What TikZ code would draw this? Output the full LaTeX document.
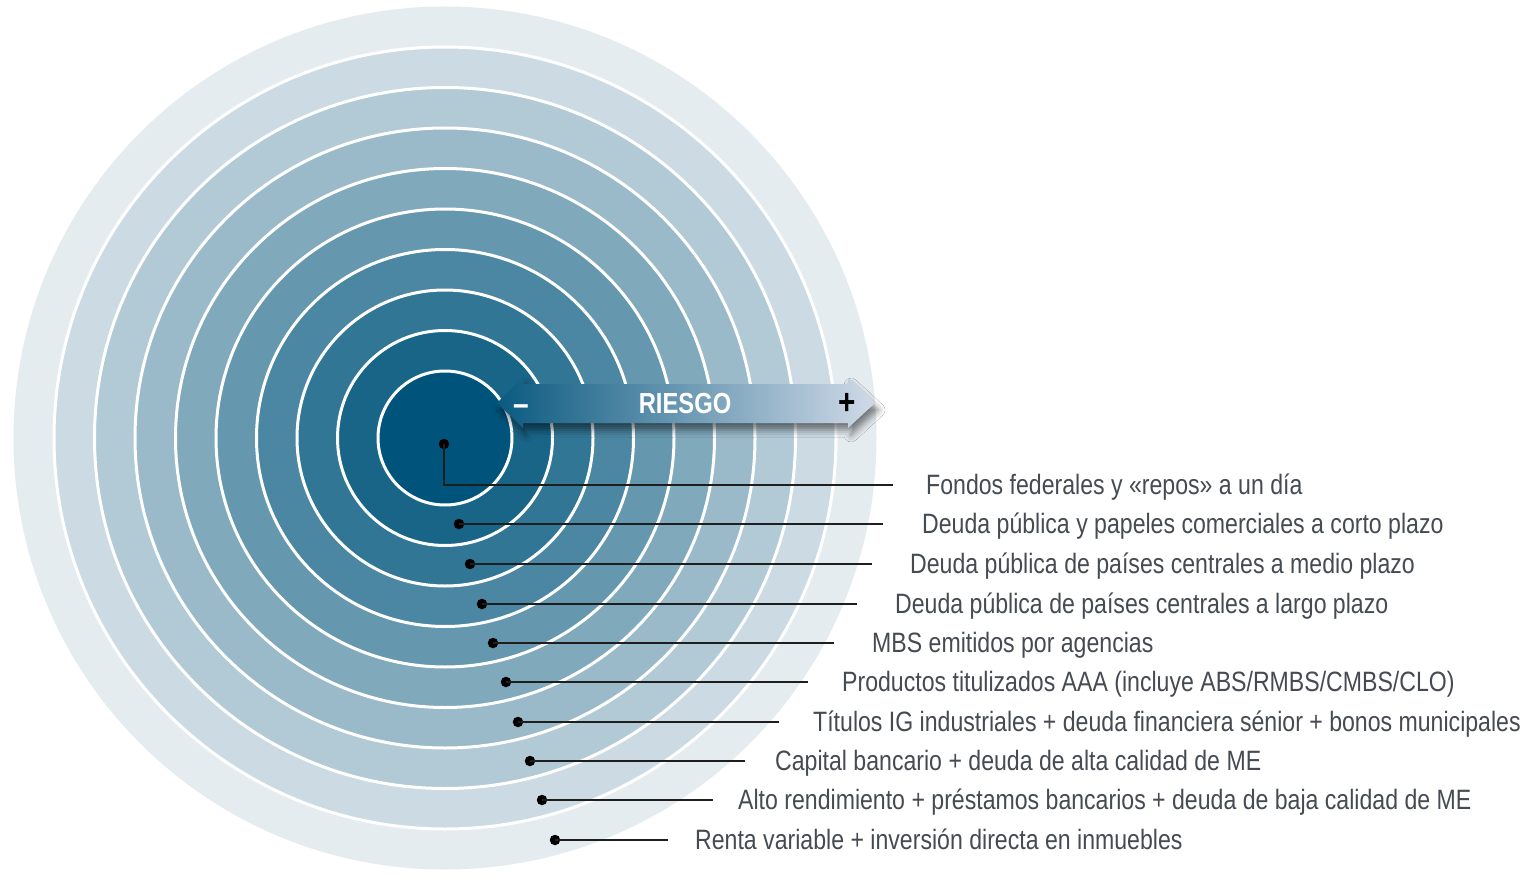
\documentclass[tikz,border=0pt]{standalone}
\usepackage{fontspec}
\setmainfont{Liberation Sans}[FakeStretch=0.825]
\newfontfamily\boldcond{Liberation Sans}[FakeStretch=0.82]
\usetikzlibrary{shadows.blur}
\definecolor{innerc}{RGB}{0,84,123}
\definecolor{outerc}{RGB}{229,236,240}
\definecolor{labelgray}{RGB}{70,75,82}
\definecolor{leader}{RGB}{30,30,30}
\definecolor{arrowL}{RGB}{10,90,128}
\definecolor{arrowM}{RGB}{80,128,164}
\definecolor{arrowR}{RGB}{208,218,232}
\begin{document}
\begin{tikzpicture}[x=1pt,y=-1pt,
  lbl/.style={anchor=base west, inner sep=0pt, font=\fontsize{28}{28}\selectfont, text=labelgray},
  leaderline/.style={draw=leader, line width=1.4pt},
  dotst/.style={circle, fill=black, inner sep=0pt, minimum size=10.5pt}]
\useasboundingbox (0,0) rectangle (1532,880);
\fill[white] (0,0) rectangle (1532,880);
\coordinate (c) at (445,438);
\fill[outerc] (c) circle[radius=431.5];
\foreach \k in {8,...,0} {
  \pgfmathsetmacro\r{67+40.5*\k}
  \pgfmathsetmacro\p{round(100*\k/9)}
  \fill[outerc!\p!innerc, draw=white, line width=3pt] (c) circle[radius=\r];
}
% arrow
\path[shade, left color=arrowL, middle color=arrowM, right color=arrowR,
  blur shadow={shadow xshift=3pt, shadow yshift=-7pt, shadow blur radius=7pt, shadow opacity=50}]
  (497,403) -- (523,378) -- (523,384) -- (848,384) -- (848,378) -- (875,403)
  -- (848,428) -- (848,423) -- (523,423) -- (523,428) -- cycle;
\node[font=\boldcond\bfseries\fontsize{29}{29}\selectfont, text=white, inner sep=0pt] (riesgo) at (685,404) {RIESGO};
\node[font=\bfseries\fontsize{34}{34}\selectfont, text=white, inner sep=0pt, anchor=base] (minus) at (521,415) {–};
\node[font=\bfseries\fontsize{36}{36}\selectfont, text=black, inner sep=0pt] (plus) at (847,404) {+};
% dots
\node[dotst] (d1) at (444,444) {};
\node[dotst] (d2) at (459,524) {};
\node[dotst] (d3) at (470,564) {};
\node[dotst] (d4) at (482,604) {};
\node[dotst] (d5) at (493,643) {};
\node[dotst] (d6) at (506,682) {};
\node[dotst] (d7) at (518,722) {};
\node[dotst] (d8) at (530,761) {};
\node[dotst] (d9) at (542,800) {};
\node[dotst] (d10) at (555,840) {};
% leader ends
\coordinate (e1) at (893,485);
\coordinate (e2) at (883,524);
\coordinate (e3) at (872,564);
\coordinate (e4) at (857,604);
\coordinate (e5) at (834,643);
\coordinate (e6) at (808,682);
\coordinate (e7) at (779,722);
\coordinate (e8) at (745,761);
\coordinate (e9) at (713,800);
\coordinate (e10) at (668,840);
\draw[leaderline] (d1.center) |- (e1);
\foreach \i in {2,...,10} { \draw[leaderline] (d\i.center) -- (e\i); }
% labels
\node[lbl] (l1) at (926,494.5) {Fondos federales y «repos» a un día};
\node[lbl] (l2) at (922,533.5) {Deuda pública y papeles comerciales a corto plazo};
\node[lbl] (l3) at (910,573.5) {Deuda pública de países centrales a medio plazo};
\node[lbl] (l4) at (895,613.5) {Deuda pública de países centrales a largo plazo};
\node[lbl] (l5) at (872,652.5) {MBS emitidos por agencias};
\node[lbl] (l6) at (842,691.5) {Productos titulizados AAA (incluye ABS/RMBS/CMBS/CLO)};
\node[lbl] (l7) at (813,731.5) {Títulos IG industriales + deuda financiera sénior + bonos municipales};
\node[lbl] (l8) at (775,770.5) {Capital bancario + deuda de alta calidad de ME};
\node[lbl] (l9) at (738,809.5) {Alto rendimiento + préstamos bancarios + deuda de baja calidad de ME};
\node[lbl] (l10) at (695,849.5) {Renta variable + inversión directa en inmuebles};
\end{tikzpicture}
\end{document}
